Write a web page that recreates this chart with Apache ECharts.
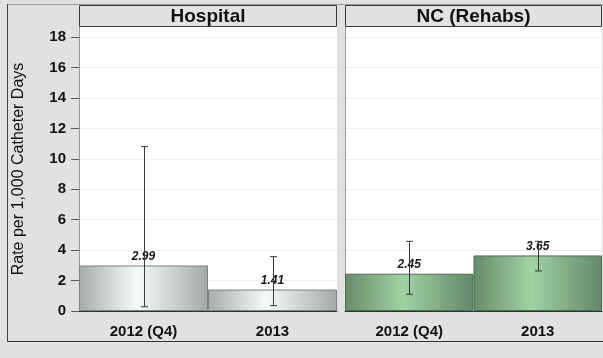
<!DOCTYPE html>
<html>
<head>
<meta charset="utf-8">
<script src="https://cdn.jsdelivr.net/npm/echarts@6/dist/echarts.min.js"></script>
<style>
  html, body { margin: 0; padding: 0; background: #e1e1e1; }
  #chart { width: 603px; height: 358px; }
</style>
</head>
<body>
<div id="chart"></div>
<script>
// Catheter-associated infection rates, per facility type
const categories = ['2012 (Q4)', '2013'];
const panelTitles = ['Hospital', 'NC (Rehabs)'];

const hospitalRates = [2.99, 1.41];
const hospitalLow = [0.28, 0.35];
const hospitalHigh = [10.8, 3.57];

const rehabRates = [2.45, 3.65];
const rehabLow = [1.1, 2.63];
const rehabHigh = [4.58, 4.58];

const yTicks = [0, 2, 4, 6, 8, 10, 12, 14, 16, 18];
const yMax = 18.66;

const FONT = '"Liberation Sans", Arial, sans-serif';

const chart = echarts.init(document.getElementById('chart'), null, { renderer: 'canvas' });

function grad(edgeL, mid, edgeR) {
  return new echarts.graphic.LinearGradient(0, 0, 1, 0, [
    { offset: 0, color: edgeL },
    { offset: 0.45, color: mid },
    { offset: 1, color: edgeR }
  ]);
}

function errorData(low, high) {
  return categories.map((c, i) => [i, low[i], high[i]]);
}

function renderError(params, api) {
  const x = api.value(0);
  const lo = api.coord([x, api.value(1)]);
  const hi = api.coord([x, api.value(2)]);
  const cx = Math.round(lo[0]) + 0.5;
  const w = 3.5;
  const style = { stroke: '#3a3a3a', lineWidth: 1 };
  return {
    type: 'group',
    children: [
      { type: 'line', shape: { x1: cx, y1: hi[1], x2: cx, y2: lo[1] }, style },
      { type: 'line', shape: { x1: cx - w, y1: hi[1], x2: cx + w, y2: hi[1] }, style },
      { type: 'line', shape: { x1: cx - w, y1: lo[1], x2: cx + w, y2: lo[1] }, style }
    ]
  };
}

const grids = [
  { left: 79, right: 266, top: 27, bottom: 47 },
  { left: 345, right: 1, top: 27, bottom: 47 }
];

function xAxis(i) {
  return {
    type: 'category', gridIndex: i, data: categories,
    axisLine: { lineStyle: { color: '#333', width: 1 } },
    axisTick: { alignWithLabel: true, length: 5, lineStyle: { color: '#888' } },
    axisLabel: { fontFamily: FONT, fontSize: 15, fontWeight: 'bold', color: '#111', margin: 13 }
  };
}

function yAxis(i) {
  return {
    type: 'value', gridIndex: i, min: 0, max: yMax, interval: 2,
    name: i === 0 ? 'Rate per 1,000 Catheter Days' : '',
    nameLocation: 'middle', nameGap: 52, nameRotate: 90,
    nameTextStyle: { fontFamily: FONT, fontSize: 16, color: '#111' },
    axisLine: { show: true, lineStyle: { color: '#999' } },
    axisTick: { show: i === 0, length: 8, customValues: yTicks, lineStyle: { color: '#555' } },
    axisLabel: { show: i === 0, customValues: yTicks, fontFamily: FONT, fontSize: 15, fontWeight: 'bold', color: '#111', margin: 13 },
    splitLine: { show: true, lineStyle: { color: '#ededed' } }
  };
}

const labelStyle = {
  show: true, position: 'top', distance: 3,
  fontFamily: FONT, fontSize: 12, fontStyle: 'italic', fontWeight: 'bold', color: '#1a1a1a',
  formatter: p => p.value.toFixed(2)
};

const graphics = [
  // outer frame
  { type: 'line', z: 10, shape: { x1: 7, y1: 4.5, x2: 603, y2: 4.5 }, style: { stroke: '#9a9a9a', lineWidth: 1 } },
  { type: 'line', z: 10, shape: { x1: 7.5, y1: 4, x2: 7.5, y2: 341 }, style: { stroke: '#444', lineWidth: 1 } },
  { type: 'line', z: 10, shape: { x1: 7, y1: 341.5, x2: 603, y2: 341.5 }, style: { stroke: '#333', lineWidth: 1 } }
];

[[79, 258], [345, 257]].forEach(([x, w], i) => {
  graphics.push({
    type: 'rect', z: 10, shape: { x: x + 0.5, y: 5.5, width: w - 1, height: 21 },
    style: { fill: '#e2e2e2', stroke: '#3a3a3a', lineWidth: 1 }
  });
  graphics.push({
    type: 'text', z: 11, x: x + w / 2, y: 16.5,
    style: { text: panelTitles[i], fontFamily: FONT, fontSize: 19, fontWeight: 'bold', fill: '#111',
      align: 'center', verticalAlign: 'middle' }
  });
});

chart.setOption({
  backgroundColor: '#e1e1e1',
  animation: false,
  grid: grids.map(g => Object.assign({ backgroundColor: '#ffffff', show: true, borderWidth: 0 }, g)),
  xAxis: [xAxis(0), xAxis(1)],
  yAxis: [yAxis(0), yAxis(1)],
  graphic: graphics,
  series: [
    {
      type: 'bar', xAxisIndex: 0, yAxisIndex: 0, data: hospitalRates,
      barCategoryGap: 0,
      itemStyle: { color: grad('#a6acaa', '#f5fbf7', '#a3a9a6'), borderColor: '#7d8380', borderWidth: 1 },
      label: labelStyle, z: 2
    },
    {
      type: 'custom', xAxisIndex: 0, yAxisIndex: 0, data: errorData(hospitalLow, hospitalHigh),
      renderItem: renderError, z: 5
    },
    {
      type: 'bar', xAxisIndex: 1, yAxisIndex: 1, data: rehabRates,
      barCategoryGap: 0,
      itemStyle: { color: grad('#668b69', '#a0d3a4', '#62876a'), borderColor: '#4c6c4f', borderWidth: 1 },
      label: labelStyle, z: 2
    },
    {
      type: 'custom', xAxisIndex: 1, yAxisIndex: 1, data: errorData(rehabLow, rehabHigh),
      renderItem: renderError, z: 5
    }
  ]
});
</script>
</body>
</html>
